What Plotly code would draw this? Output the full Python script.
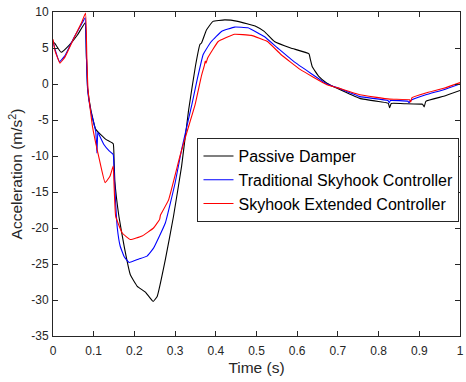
import plotly.graph_objects as go

# ---- data ----
t_passive = [0, 0.005, 0.02, 0.04, 0.06, 0.079, 0.082, 0.085, 0.093, 0.105, 0.13, 0.148, 0.150, 0.152,
             0.162, 0.175, 0.19, 0.207, 0.227, 0.246, 0.256, 0.276, 0.296, 0.316, 0.333, 0.350, 0.361,
             0.365, 0.377, 0.393, 0.422, 0.454, 0.499, 0.519, 0.544, 0.584, 0.629, 0.632, 0.637, 0.653,
             0.673, 0.698, 0.754, 0.819, 0.824, 0.827, 0.831, 0.868, 0.905, 0.908, 0.912, 0.916, 0.96, 1.0]
y_passive = [5.9, 5.6, 4.4, 5.4, 6.8, 8.5, 4.0, -0.5, -3.6, -6.3, -7.7, -8.3, -10.5, -13.5,
             -18.4, -22.6, -26.5, -28.1, -28.9, -30.2, -29.5, -24.4, -18.4, -11.4, -3.7, 2.5, 5.5,
             5.7, 7.5, 8.7, 8.9, 8.7, 8.0, 7.3, 5.9, 5.0, 4.2, 3.5, 2.4, 1.05,
             0.1, -0.6, -2.0, -2.6, -2.7, -3.3, -2.7, -2.75, -2.8, -2.8, -3.2, -2.4, -1.7, -0.9]

t_traditional = [0, 0.005, 0.016, 0.03, 0.05, 0.07, 0.079, 0.082, 0.085, 0.093, 0.105, 0.108, 0.110,
                 0.112, 0.125, 0.138, 0.148, 0.150, 0.152, 0.158, 0.165, 0.175, 0.187, 0.211, 0.231,
                 0.247, 0.276, 0.30, 0.316, 0.341, 0.355, 0.369, 0.372, 0.389, 0.414, 0.446, 0.479,
                 0.519, 0.552, 0.592, 0.633, 0.673, 0.698, 0.754, 0.823, 0.826, 0.829, 0.872, 0.875,
                 0.878, 0.916, 0.96, 1.0]
y_traditional = [6.0, 4.8, 3.1, 4.0, 6.3, 8.3, 9.2, 4.0, -0.8, -3.8, -6.6, -9.6, -6.7,
                 -6.9, -8.4, -9.3, -9.8, -12.0, -14.5, -20.0, -22.5, -24.0, -24.8, -24.3, -23.9,
                 -22.8, -19.3, -13.75, -9.1, -2.9, 0.8, 4.1, 4.4, 5.9, 7.3, 7.9, 7.8,
                 6.6, 5.0, 3.1, 1.5, 0.0, -0.5, -1.75, -2.3, -2.6, -2.3, -2.4, -2.6,
                 -2.3, -1.5, -0.8, 0.0]

t_extended = [0, 0.005, 0.017, 0.03, 0.05, 0.07, 0.080, 0.083, 0.086, 0.097, 0.114, 0.128, 0.14,
              0.148, 0.150, 0.154, 0.170, 0.19, 0.219, 0.247, 0.262, 0.264, 0.266, 0.284, 0.312,
              0.330, 0.349, 0.365, 0.372, 0.374, 0.376, 0.380, 0.406, 0.446, 0.487, 0.527, 0.56,
              0.608, 0.673, 0.698, 0.754, 0.827, 0.876, 0.879, 0.882, 0.916, 0.96, 1.0]
y_extended = [6.2, 4.6, 2.9, 3.8, 6.2, 8.5, 9.85, 4.0, -0.8, -5.9, -10.5, -13.7, -12.8,
              -11.4, -14.0, -18.4, -20.7, -21.6, -21.1, -20.0, -18.8, -18.2, -18.0, -16.1, -10.0,
              -6.5, -2.9, 1.2, 2.6, 3.2, 2.9, 3.6, 5.9, 6.9, 6.75, 5.9, 4.1,
              2.0, -0.1, -0.5, -1.5, -2.1, -2.2, -2.5, -1.9, -1.25, -0.6, 0.2]

names = ["Passive Damper", "Traditional Skyhook Controller", "Skyhook Extended Controller"]
colors = ["#000000", "#0000ff", "#ff0000"]

x_ticks = [0, 0.1, 0.2, 0.3, 0.4, 0.5, 0.6, 0.7, 0.8, 0.9, 1]
x_tick_text = ["0", "0.1", "0.2", "0.3", "0.4", "0.5", "0.6", "0.7", "0.8", "0.9", "1"]
y_ticks = [10, 5, 0, -5, -10, -15, -20, -25, -30, -35]
y_tick_text = ["10", "5", "0", "-5", "-10", "-15", "-20", "-25", "-30", "-35"]

FONT = "Liberation Sans, Arial, sans-serif"
TXT = "#262626"

fig = go.Figure()
for tx, ty, nm, col in zip([t_passive, t_traditional, t_extended],
                           [y_passive, y_traditional, y_extended], names, colors):
    fig.add_trace(go.Scatter(x=tx, y=ty, mode="lines", name=nm,
                             line=dict(color=col, width=1.1, shape="spline", smoothing=0.3)))

axis_common = dict(showline=True, linecolor=TXT, linewidth=1, mirror="ticks",
                   ticks="inside", ticklen=5, tickcolor=TXT, tickwidth=1,
                   showgrid=False, zeroline=False, ticklabeloverflow="allow",
                   tickfont=dict(family=FONT, size=12, color=TXT))

fig.update_layout(
    width=466, height=382,
    margin=dict(l=53, r=2, t=12, b=46),
    paper_bgcolor="white", plot_bgcolor="white",
    font=dict(family=FONT, color=TXT),
    xaxis=dict(range=[0, 1], tickvals=x_ticks, ticktext=x_tick_text, ticklabelstandoff=4,
               title=dict(text="Time (s)", font=dict(family=FONT, size=15.5, color=TXT), standoff=4),
               **axis_common),
    yaxis=dict(range=[-35, 10], tickvals=y_ticks, ticktext=y_tick_text, ticklabelstandoff=1,
               title=dict(text="Acceleration (m/s<sup>2</sup>)",
                          font=dict(family=FONT, size=15.5, color=TXT), standoff=4),
               **axis_common),
    legend=dict(x=0.355, y=0.611, xanchor="left", yanchor="top",
                bgcolor="white", bordercolor=TXT, borderwidth=1,
                font=dict(family=FONT, size=16, color="#000000"),
                tracegroupgap=0, itemwidth=30),
    showlegend=True,
)

fig.write_html("out.html")
